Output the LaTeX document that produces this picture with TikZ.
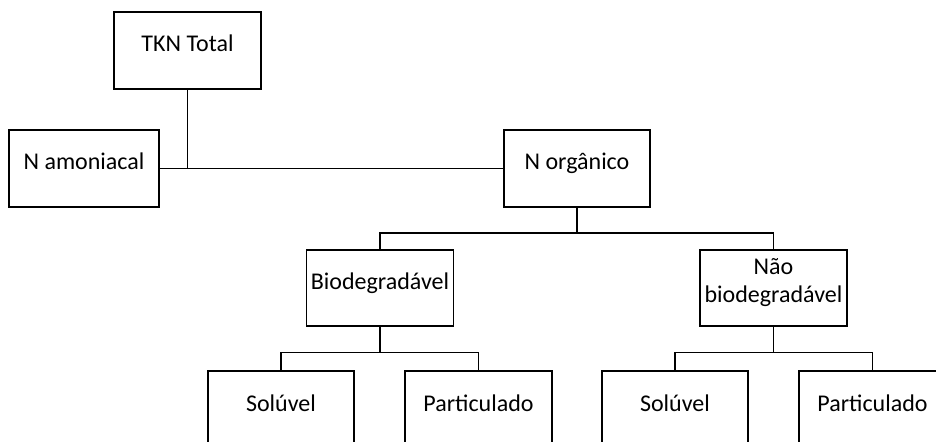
\documentclass[tikz,border=0pt]{standalone}
\usepackage{fontspec}
\setmainfont{Carlito}
\begin{document}
\begin{tikzpicture}[x=1pt,y=-1pt,
  box/.style={draw=black, line width=1.1pt, rectangle, inner sep=0pt,
    minimum width=147pt, minimum height=77pt, text height=40pt, text depth=37pt,
    font=\fontsize{24}{28}\selectfont},
  lbl/.style={inner sep=0pt, anchor=base, font=\fontsize{24}{28}\selectfont},
  conn/.style={draw=black, line width=1.1pt}]
\useasboundingbox (0,0) rectangle (936,443);
\clip (0,0) rectangle (936,441);
\node[box] (tkn)  at (187.5,50.5) {TKN Total};
\node[box, minimum width=150pt] (amon) at (84,168.5) {N amoniacal};
\node[box, minimum width=146pt] (norg) at (577,168.5) {N orgânico};
\node[box, minimum height=76pt, text depth=36pt] (bio) at (380,288) {Biodegradável};
\node[box, minimum height=76pt, text height=0pt, text depth=0pt] (nbio) at (773.5,288) {};
\node[lbl] (nbio1) at ([yshift=-25pt]nbio.north) {Não};
\node[lbl] (nbio2) at ([yshift=-53.3pt]nbio.north) {biodegradável};
\node[box, minimum width=146pt] (sol1)  at (281,409.5) {Solúvel};
\node[box] (part1) at (478.5,409.5) {Particulado};
\node[box, minimum width=146pt] (sol2)  at (675,409.5) {Solúvel};
\node[box] (part2) at (872.5,409.5) {Particulado};
% connectors
\draw[conn] (amon.east) -- (norg.west);
\draw[conn] (tkn.south) -- (tkn.south |- amon.east);
\coordinate (j1) at (577,233);
\draw[conn] (norg.south) -- (j1);
\draw[conn] (bio.north) |- (j1) -| (nbio.north);
\coordinate (j2) at (380,352.5);
\draw[conn] (bio.south) -- (j2);
\draw[conn] (sol1.north) |- (j2) -| (part1.north);
\coordinate (j3) at (773.5,352.5);
\draw[conn] (nbio.south) -- (j3);
\draw[conn] (sol2.north) |- (j3) -| (part2.north);
\end{tikzpicture}
\end{document}
